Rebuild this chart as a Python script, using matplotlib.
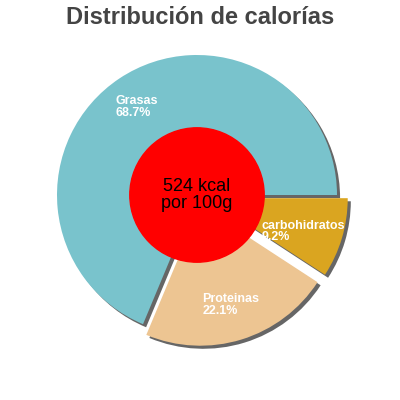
import matplotlib.pyplot as plt

plt.rcParams['font.family'] = ['Liberation Sans', 'DejaVu Sans']

# Data
labels = ['Grasas', 'Proteinas', 'carbohidratos']
values = [68.7, 22.1, 9.2]
colors = ['#79c3cc', '#edc592', '#daa520']
explode = [0.0, 0.08, 0.08]
label_pos = [(-0.58, 0.63), (0.04, -0.785), (0.46, -0.26)]
energy_text = '524 kcal\npor 100g'
title = 'Distribución de calorías'

fig = plt.figure(figsize=(4, 4), dpi=100)
ax = fig.add_axes([0, 0, 1, 1])

# shadow
ax.pie(values, colors=['#666666'] * 3, explode=explode, startangle=0,
       center=(0.022, -0.022), radius=1.0, frame=True)
# main pie
ax.pie(values, colors=colors, explode=explode, startangle=0,
       center=(0, 0), radius=1.0, frame=True)
ax.set_xlim(-197 / 140, 203 / 140)
ax.set_ylim(-205 / 140, 195 / 140)
ax.set_aspect('equal')
ax.axis('off')

# center circle
ax.add_patch(plt.Circle((0, 0), 0.48, color='#ff0000', zorder=5))
ax.text(0, 0, energy_text, ha='center', va='center', fontsize=13,
        color='black', zorder=6, linespacing=1.0)

for lab, val, (x, y) in zip(labels, values, label_pos):
    ax.text(x, y, f'{lab}\n{val}%', ha='left', va='center', fontsize=9,
            fontweight='bold', color='white', zorder=6, linespacing=0.95)

fig.text(0.5, 1 - 18 / 400, title, ha='center', va='center', fontsize=17,
         fontweight='bold', color='#444444')

fig.savefig('out.png', dpi=100)
